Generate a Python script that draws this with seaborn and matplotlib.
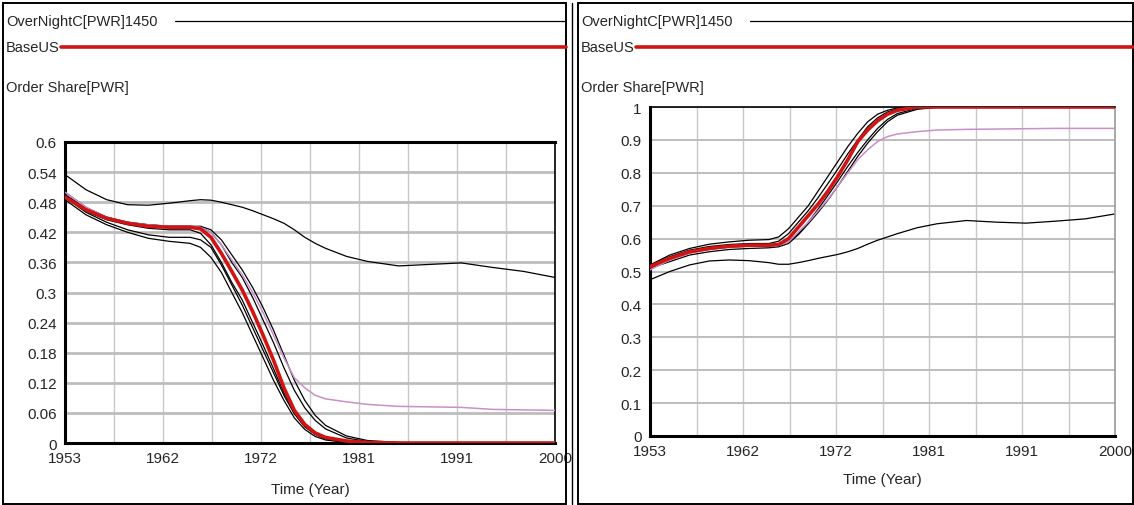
import matplotlib
matplotlib.use("Agg")
import matplotlib.pyplot as plt
from matplotlib.lines import Line2D
from matplotlib.patches import Rectangle
import seaborn as sns
import pandas as pd
import numpy as np

years = [1953, 1955, 1957, 1959, 1961, 1963, 1965, 1966, 1967, 1968, 1969, 1970, 1971, 1972,
         1973, 1974, 1975, 1976, 1977, 1978, 1980, 1982, 1985, 1988, 1991, 1994, 1997, 2000]

# Panneau gauche : Order Share[BWR]
bwr_base = [0.490, 0.465, 0.448, 0.438, 0.432, 0.430, 0.430, 0.427, 0.410, 0.378, 0.342, 0.305, 0.262, 0.215,
            0.165, 0.110, 0.065, 0.037, 0.020, 0.011, 0.004, 0.001, 0, 0, 0, 0, 0, 0]
bwr_pink = [0.500, 0.470, 0.450, 0.440, 0.435, 0.432, 0.432, 0.430, 0.420, 0.395, 0.365, 0.335, 0.300, 0.260,
            0.215, 0.170, 0.130, 0.110, 0.095, 0.088, 0.082, 0.077, 0.073, 0.072, 0.071, 0.067, 0.066, 0.065]
bwr_high = [0.535, 0.505, 0.485, 0.475, 0.474, 0.478, 0.483, 0.485, 0.484, 0.480, 0.475, 0.470, 0.463, 0.455,
            0.447, 0.438, 0.425, 0.410, 0.398, 0.388, 0.372, 0.362, 0.353, 0.356, 0.359, 0.350, 0.342, 0.330]
bwr_runs = [
    [0.500, 0.470, 0.450, 0.440, 0.435, 0.432, 0.432, 0.430, 0.420, 0.395, 0.360, 0.330, 0.290, 0.245,
     0.200, 0.150, 0.105, 0.070, 0.045, 0.028, 0.010, 0.003, 0, 0, 0, 0, 0, 0],
    [0.495, 0.468, 0.450, 0.440, 0.435, 0.432, 0.432, 0.432, 0.425, 0.405, 0.375, 0.345, 0.310, 0.270,
     0.225, 0.175, 0.125, 0.085, 0.055, 0.035, 0.014, 0.005, 0.001, 0, 0, 0, 0, 0],
    [0.490, 0.460, 0.440, 0.425, 0.415, 0.410, 0.410, 0.405, 0.390, 0.355, 0.315, 0.275, 0.230, 0.185,
     0.140, 0.095, 0.058, 0.032, 0.017, 0.008, 0.002, 0, 0, 0, 0, 0, 0, 0],
    [0.485, 0.455, 0.435, 0.420, 0.408, 0.402, 0.398, 0.390, 0.370, 0.340, 0.300, 0.260, 0.215, 0.170,
     0.125, 0.085, 0.050, 0.027, 0.013, 0.006, 0.001, 0, 0, 0, 0, 0, 0, 0],
    [0.495, 0.462, 0.445, 0.435, 0.428, 0.425, 0.425, 0.418, 0.395, 0.360, 0.320, 0.285, 0.240, 0.195,
     0.148, 0.100, 0.062, 0.035, 0.018, 0.009, 0.002, 0, 0, 0, 0, 0, 0, 0],
]

# Panneau droit : Order Share[PWR]
pwr_base = [0.515, 0.540, 0.560, 0.570, 0.577, 0.580, 0.580, 0.582, 0.600, 0.635, 0.670, 0.705, 0.745, 0.790,
            0.840, 0.895, 0.930, 0.958, 0.978, 0.990, 1.0, 1.0, 1.0, 1.0, 1.0, 1.0, 1.0, 1.0]
pwr_pink = [0.505, 0.535, 0.555, 0.567, 0.574, 0.577, 0.578, 0.580, 0.590, 0.620, 0.650, 0.685, 0.720, 0.760,
            0.800, 0.840, 0.870, 0.895, 0.910, 0.918, 0.925, 0.930, 0.932, 0.933, 0.934, 0.935, 0.935, 0.935]
pwr_low = [0.475, 0.500, 0.520, 0.532, 0.535, 0.533, 0.527, 0.522, 0.522, 0.527, 0.533, 0.540, 0.546, 0.552,
           0.560, 0.570, 0.583, 0.595, 0.605, 0.615, 0.633, 0.645, 0.655, 0.650, 0.647, 0.653, 0.660, 0.675]
pwr_runs = [
    [0.520, 0.550, 0.570, 0.583, 0.590, 0.595, 0.597, 0.605, 0.630, 0.665, 0.700, 0.745, 0.790, 0.835,
     0.880, 0.920, 0.955, 0.978, 0.990, 0.997, 1.0, 1.0, 1.0, 1.0, 1.0, 1.0, 1.0, 1.0],
    [0.518, 0.545, 0.565, 0.576, 0.582, 0.585, 0.585, 0.592, 0.615, 0.650, 0.685, 0.725, 0.768, 0.812,
     0.858, 0.900, 0.940, 0.967, 0.985, 0.994, 1.0, 1.0, 1.0, 1.0, 1.0, 1.0, 1.0, 1.0],
    [0.510, 0.530, 0.550, 0.560, 0.567, 0.570, 0.572, 0.575, 0.585, 0.612, 0.645, 0.680, 0.718, 0.760,
     0.805, 0.850, 0.890, 0.925, 0.955, 0.975, 0.993, 0.999, 1.0, 1.0, 1.0, 1.0, 1.0, 1.0],
    [0.512, 0.538, 0.557, 0.568, 0.574, 0.577, 0.578, 0.580, 0.590, 0.615, 0.650, 0.690, 0.732, 0.775,
     0.820, 0.862, 0.900, 0.935, 0.962, 0.980, 0.996, 1.0, 1.0, 1.0, 1.0, 1.0, 1.0, 1.0],
]

grid_years = np.linspace(1953, 2000, 11)
tick_years = np.linspace(1953, 2000, 6)
tick_labels = ["1953", "1962", "1972", "1981", "1991", "2000"]
bwr_ticks = [0, 0.06, 0.12, 0.18, 0.24, 0.3, 0.36, 0.42, 0.48, 0.54, 0.6]
bwr_labels = ["0", "0.06", "0.12", "0.18", "0.24", "0.3", "0.36", "0.42", "0.48", "0.54", "0.6"]
pwr_ticks = [0, 0.1, 0.2, 0.3, 0.4, 0.5, 0.6, 0.7, 0.8, 0.9, 1]
pwr_labels = ["0", "0.1", "0.2", "0.3", "0.4", "0.5", "0.6", "0.7", "0.8", "0.9", "1"]

RED = "#d01414"
PINK = "#c890c8"

sns.set_style("white")
plt.rcParams['font.family'] = ['Liberation Sans Narrow', 'Liberation Sans', 'DejaVu Sans']

W, H = 1134, 506
fig = plt.figure(figsize=(W / 100, H / 100), dpi=100)


def fx(x):
    return x / W


def fy(y):
    return 1 - y / H


def draw_panel(rect, runs, high, pink, base, ymax, ticks, labels, hgrid_lw, labelpad):
    ax = fig.add_axes(rect)
    for v in grid_years:
        ax.axvline(v, color="#c8c8c8", lw=1, zorder=0)
    for v in ticks:
        ax.axhline(v, color="#bdbdbd", lw=hgrid_lw, zorder=0)
    for r in runs:
        sns.lineplot(x=years, y=r, ax=ax, color="black", lw=0.9, zorder=2)
    sns.lineplot(x=years, y=high, ax=ax, color="black", lw=0.9, zorder=2)
    sns.lineplot(x=years, y=pink, ax=ax, color=PINK, lw=1.1, zorder=3)
    sns.lineplot(x=years, y=base, ax=ax, color=RED, lw=2.6, zorder=4)
    ax.set_xlim(1953, 2000)
    ax.set_ylim(0, ymax)
    ax.set_xticks(tick_years)
    ax.set_xticklabels(tick_labels, fontsize=11)
    ax.set_yticks(ticks)
    ax.set_yticklabels(labels, fontsize=11)
    ax.tick_params(length=0, pad=6)
    ax.set_xlabel("Time (Year)", fontsize=11, labelpad=labelpad)
    ax.set_ylabel("")
    for s in ["left", "bottom"]:
        ax.spines[s].set_color("black")
        ax.spines[s].set_linewidth(2.2)
    for s in ["top", "right"]:
        ax.spines[s].set_color("black")
        ax.spines[s].set_linewidth(1.2)
    return ax


axL = draw_panel([fx(65), fy(444), fx(490), 301 / H], bwr_runs, bwr_high, bwr_pink, bwr_base,
                 0.6, bwr_ticks, bwr_labels, 2.0, 12)
axL.spines["top"].set_linewidth(2.2)
axR = draw_panel([fx(650), fy(437), fx(465), 329 / H], pwr_runs, pwr_low, pwr_pink, pwr_base,
                 1.0, pwr_ticks, pwr_labels, 1.4, 10)
axR.spines["right"].set_color("#999999")

# En-têtes et légendes façon Vensim
for x0, x1 in [(3, 566), (578, 1133)]:
    fig.text(fx(x0 + 3), fy(22), "OverNightC[PWR]1450", fontsize=10.5, va="center")
    fig.add_artist(Line2D([fx(x0 + 172), fx(x1)], [fy(22), fy(22)], color="black", lw=0.9))
    fig.text(fx(x0 + 3), fy(48), "BaseUS", fontsize=10.5, va="center")
    fig.add_artist(Line2D([fx(x0 + 58), fx(x1)], [fy(48), fy(48)], color=RED, lw=2.6))
    fig.text(fx(x0 + 3), fy(88), "Order Share[PWR]", fontsize=10.5, va="center")
    fig.add_artist(Rectangle((fx(x0), fy(505)), fx(x1 - x0), (505 - 4) / H, transform=fig.transFigure,
                             fill=False, ec="black", lw=1.4))
fig.add_artist(Line2D([fx(572), fx(572)], [fy(4), fy(505)], color="black", lw=1.0))

fig.savefig("out.png", dpi=100)
